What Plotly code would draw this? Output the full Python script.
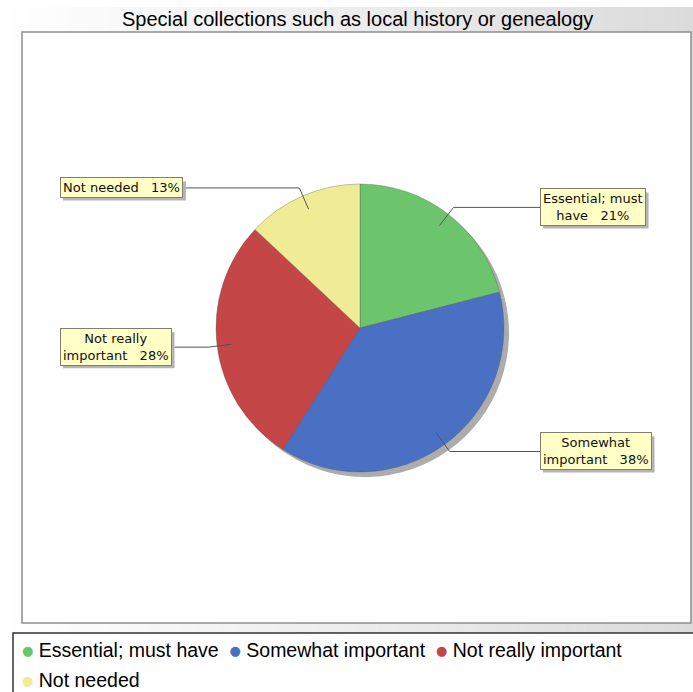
import math
import textwrap
import plotly.graph_objects as go

W, H = 693, 692

title = "Special collections such as local history or genealogy"
categories = ["Essential; must have", "Somewhat important", "Not really important", "Not needed"]
percents = [21, 38, 28, 13]
colors = ["#6cc46c", "#4a70c4", "#c44646", "#f0ec96"]
legend_rows = [categories[:3], categories[3:]]

# advance widths (em) of DejaVu Sans, used to size the label-box shadows
DEJAVU_EM = {
    " ": 0.318, "\u00a0": 0.318, "%": 0.950, ";": 0.337,
    "a": 0.613, "b": 0.635, "c": 0.550, "d": 0.635, "e": 0.615, "f": 0.352,
    "g": 0.635, "h": 0.634, "i": 0.278, "j": 0.278, "k": 0.579, "l": 0.278,
    "m": 0.974, "n": 0.634, "o": 0.612, "p": 0.635, "q": 0.635, "r": 0.411,
    "s": 0.521, "t": 0.392, "u": 0.634, "v": 0.592, "w": 0.818, "x": 0.592,
    "y": 0.592, "z": 0.525, "E": 0.632, "N": 0.748, "S": 0.635,
}


def text_width(s, size):
    return sum(DEJAVU_EM.get(ch, 0.636) for ch in s) * size


def fx(x):
    return x / W


def fy(y):
    return 1 - y / H


# pie geometry in pixels
cx, cy, r = 360, 328, 144
shadow_off = 5

fig = go.Figure()

# drop shadow under the pie
fig.add_trace(go.Pie(
    values=percents, labels=categories, sort=False, direction="clockwise", rotation=0,
    marker=dict(colors=["#a4a4a4"] * len(percents), line=dict(width=0)),
    textinfo="none", hoverinfo="skip", showlegend=False, opacity=0.9,
    domain=dict(x=[fx(cx - r + shadow_off), fx(cx + r + shadow_off)],
                y=[fy(cy + r + shadow_off), fy(cy - r + shadow_off)]),
))

fig.add_trace(go.Pie(
    values=percents, labels=categories, sort=False, direction="clockwise", rotation=0,
    marker=dict(colors=colors, line=dict(color="rgba(90,90,90,0.45)", width=0.8)),
    textinfo="none", hoverinfo="label+percent", showlegend=False,
    domain=dict(x=[fx(cx - r), fx(cx + r)], y=[fy(cy + r), fy(cy - r)]),
))

shapes = []

# horizontal background gradient behind title and panels
n_strips = 70
top_y = 7
for i in range(n_strips):
    x0 = W * i / n_strips
    x1 = W * (i + 1) / n_strips + 0.5
    t = (i + 0.5) / n_strips
    v = int(round(255 - 36 * t))
    shapes.append(dict(type="rect", xref="paper", yref="paper", layer="below",
                       x0=fx(x0), x1=fx(x1), y0=fy(H), y1=fy(top_y),
                       fillcolor=f"rgb({v},{v},{v})", line=dict(width=0)))

# plot area panel
shapes.append(dict(type="rect", xref="paper", yref="paper", layer="below",
                   x0=fx(22), x1=fx(691), y0=fy(623), y1=fy(32),
                   fillcolor="white", line=dict(color="#8e8e8e", width=1.5)))

# legend panel
shapes.append(dict(type="rect", xref="paper", yref="paper", layer="below",
                   x0=fx(13), x1=fx(W + 5), y0=fy(H + 5), y1=fy(633),
                   fillcolor="white", line=dict(color="#333333", width=1.5)))

annotations = []
label_size = 13

# section labels with leader lines
cum = 0.0
for name, p in zip(categories, percents):
    theta = 2 * math.pi * (cum + p / 2) / 100.0
    cum += p
    dx, dy = math.sin(theta), -math.cos(theta)
    ax, ay = cx + 0.9 * r * dx, cy + 0.9 * r * dy
    ex, ey = cx + 1.06 * r * dx, cy + 1.06 * r * dy
    right = dx > 0
    box_x = 540 if right else 60
    line_end = box_x + 12
    shapes.append(dict(type="line", xref="paper", yref="paper", layer="above",
                       x0=fx(ax), y0=fy(ay), x1=fx(ex), y1=fy(ey),
                       line=dict(color="#555555", width=1)))
    shapes.append(dict(type="line", xref="paper", yref="paper", layer="above",
                       x0=fx(ex), y0=fy(ey), x1=fx(line_end), y1=fy(ey),
                       line=dict(color="#555555", width=1)))

    label = f"{name}\u00a0\u00a0\u00a0{p}%"
    lines = textwrap.wrap(label, width=16)
    # soft shadow behind the label box
    bw = max(text_width(s, label_size) for s in lines) + 6
    bh = 17 * len(lines) + 2
    shapes.append(dict(type="rect", xref="paper", yref="paper", layer="above",
                       x0=fx(box_x + 3), x1=fx(box_x + bw + 3),
                       y0=fy(ey + bh / 2 + 3), y1=fy(ey - bh / 2 + 3),
                       fillcolor="#b4b4b4", line=dict(width=0)))
    annotations.append(dict(text="<br>".join(lines), x=fx(box_x), y=fy(ey),
                            xref="paper", yref="paper", xanchor="left", yanchor="middle",
                            showarrow=False, align="center", borderwidth=1, borderpad=2,
                            bgcolor="#ffffc6", bordercolor="#7f7f6c",
                            font=dict(family="DejaVu Sans", size=label_size, color="#111111")))

# chart title
annotations.append(dict(text=title, x=fx(357), y=fy(19.5), xref="paper", yref="paper",
                        xanchor="center", yanchor="middle", showarrow=False,
                        font=dict(family="Liberation Sans", size=20, color="#000000")))

# legend entries with round colour keys
color_of = dict(zip(categories, colors))
row_y = [650, 680]
for row, yy in zip(legend_rows, row_y):
    parts = []
    for name in row:
        dot = (f"<span style='font-family:DejaVu Sans;font-size:13px;"
               f"baseline-shift:2px;color:{color_of[name]}'>\u25cf</span>")
        parts.append(f"{dot} {name}")
    annotations.append(dict(text="\u00a0 ".join(parts), x=fx(20), y=fy(yy),
                            xref="paper", yref="paper", xanchor="left", yanchor="middle",
                            showarrow=False, align="left",
                            font=dict(family="Liberation Sans", size=19.5, color="#000000")))

fig.update_layout(
    width=W, height=H,
    margin=dict(l=0, r=0, t=0, b=0),
    paper_bgcolor="white",
    plot_bgcolor="white",
    showlegend=False,
    shapes=shapes,
    annotations=annotations,
)

fig.write_html("out.html")
